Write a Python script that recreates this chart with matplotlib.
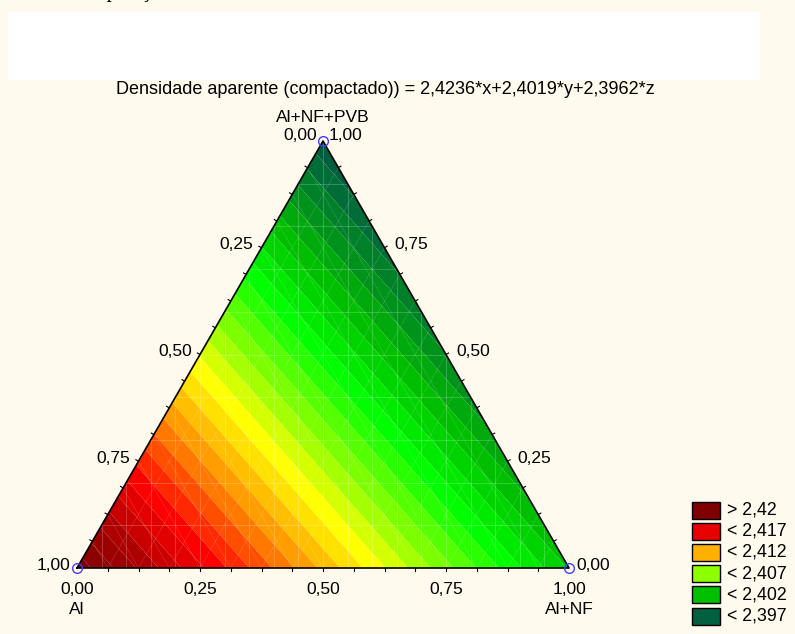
import numpy as np
import matplotlib.pyplot as plt
import matplotlib.tri as mtri
from matplotlib.colors import LinearSegmentedColormap
from matplotlib.patches import Rectangle, Polygon

plt.rcParams['font.family'] = ['Liberation Sans', 'DejaVu Sans']

# Modelo: densidade = a*x + b*y + c*z
coef = [2.4236, 2.4019, 2.3962]
vertex_names = ["Al", "Al+NF", "Al+NF+PVB"]
tick_vals = [0.0, 0.25, 0.5, 0.75, 1.0]
tick_labels = ["0,00", "0,25", "0,50", "0,75", "1,00"]

# legenda
leg_labels = ["> 2,42", "< 2,417", "< 2,412", "< 2,407", "< 2,402", "< 2,397"]
leg_colors = ["#7f0000", "#e60000", "#ffb000", "#8cff00", "#00c000", "#006040"]

# paleta continua (valor, cor)
cmap_vals = [2.3962, 2.397, 2.399, 2.4015, 2.4045, 2.408, 2.4105, 2.413, 2.4155,
             2.4175, 2.4205, 2.4236]
cmap_cols = ["#005a3c", "#006440", "#008a20", "#00c000", "#00ff00", "#90ff00",
             "#ffff00", "#ffb000", "#ff5000", "#ff0000", "#b00000", "#780000"]

title = "Densidade aparente (compactado)) = 2,4236*x+2,4019*y+2,3962*z"

# vertices do triangulo em pixels
P_al = np.array([77.0, 568.0])
P_nf = np.array([569.0, 568.0])
P_pvb = np.array([323.0, 141.0])


def to_px(a, b, c):
    return a * P_al + b * P_nf + c * P_pvb


fig = plt.figure(figsize=(7.95, 6.34), dpi=100)
fig.patch.set_facecolor("#fff9ee")
ax = fig.add_axes([0, 0, 1, 1])
ax.set_xlim(0, 795)
ax.set_ylim(634, 0)
ax.axis("off")

ax.add_patch(Rectangle((8, 12), 752, 68, facecolor="white", edgecolor="none"))
ax.text(170, -3, "composição", family="Liberation Serif", fontsize=15,
        ha="right", va="baseline")

# grade ternaria
n = 60
pts = []
for i in range(n + 1):
    for j in range(n + 1 - i):
        b = i / n
        c = j / n
        a = 1 - b - c
        pts.append((a, b, c))
pts = np.array(pts)
xy = pts[:, 0:1] * P_al + pts[:, 1:2] * P_nf + pts[:, 2:3] * P_pvb
z = pts @ np.array(coef)
tri = mtri.Triangulation(xy[:, 0], xy[:, 1])

vmin, vmax = cmap_vals[0], cmap_vals[-1]
cm = LinearSegmentedColormap.from_list(
    "stat", [((v - vmin) / (vmax - vmin), col) for v, col in zip(cmap_vals, cmap_cols)])
levels = np.arange(2.396, 2.4245, 0.001)
ax.tricontourf(tri, z, levels=levels, cmap=cm, vmin=vmin, vmax=vmax,
               antialiased=True)

# linhas claras da malha
clip = Polygon([P_al, P_nf, P_pvb], closed=True, transform=ax.transData)
mesh_kw = dict(color="white", lw=0.8, alpha=0.2)
for f in np.arange(0.05, 1.0, 0.05):
    x0 = P_al[0] + f * (P_nf[0] - P_al[0])
    ln, = ax.plot([x0, x0], [141, 568], **mesh_kw)
    ln.set_clip_path(clip)
for f in np.arange(0.1, 1.0, 0.1):
    y0 = 568 - f * 427
    ln, = ax.plot([0, 795], [y0, y0], **mesh_kw)
    ln.set_clip_path(clip)
for f in np.arange(0.0625, 1.0, 0.0625):
    p = to_px(1 - f, f, 0)
    for d in (P_pvb - P_al, P_pvb - P_nf):
        ln, = ax.plot([p[0], p[0] + d[0]], [p[1], p[1] + d[1]], color="white",
                      lw=0.6, alpha=0.14)
        ln.set_clip_path(clip)

# bordas
ax.plot([P_al[0], P_nf[0], P_pvb[0], P_al[0]], [P_al[1], P_nf[1], P_pvb[1], P_al[1]],
        color="black", lw=1.2)

# marcas de escala
for f in np.arange(0.0625, 1.0, 0.0625):
    p = to_px(1 - f, f, 0)
    ax.plot([p[0], p[0]], [p[1], p[1] + 3], color="black", lw=0.8)
    p = to_px(f, 0, 1 - f)
    ax.plot([p[0], p[0] - 2.6], [p[1], p[1] - 1.5], color="black", lw=0.8)
    p = to_px(0, 1 - f, f)
    ax.plot([p[0], p[0] + 2.6], [p[1], p[1] - 1.5], color="black", lw=0.8)

# rotulos dos eixos
fs = 12.5
for v, lab in zip(tick_vals, tick_labels):
    p = to_px(1 - v, v, 0)
    ax.text(p[0], 589, lab, ha="center", va="center", fontsize=fs)
for v, lab in zip(tick_vals[1:-1], tick_labels[1:-1]):
    p = to_px(v, 0, 1 - v)
    ax.text(p[0] - 8, p[1] - 3, lab, ha="right", va="center", fontsize=fs)
for v, lab in zip(tick_vals[1:-1], tick_labels[1:-1]):
    p = to_px(0, 1 - v, v)
    ax.text(p[0] + 10, p[1] - 3, lab, ha="left", va="center", fontsize=fs)
ax.text(P_al[0] - 7, 566, tick_labels[-1], ha="right", va="center", fontsize=fs)
ax.text(P_nf[0] + 7, 566, tick_labels[0], ha="left", va="center", fontsize=fs)
ax.text(P_pvb[0] - 6, 135, tick_labels[0], ha="right", va="center", fontsize=fs)
ax.text(P_pvb[0] + 6, 135, tick_labels[-1], ha="left", va="center", fontsize=fs)

ax.text(P_al[0], 610, vertex_names[0], ha="center", va="center", fontsize=fs)
ax.text(P_nf[0], 610, vertex_names[1], ha="center", va="center", fontsize=fs)
ax.text(P_pvb[0], 118, vertex_names[2], ha="center", va="center", fontsize=fs)

# circulos nos vertices
for p in (P_al, P_nf, P_pvb):
    ax.plot(p[0], p[1], "o", ms=7, mfc="none", mec="#4040ff", mew=1.0)

ax.text(385, 89, title, ha="center", va="center", fontsize=13)

# legenda
for k, (lab, col) in enumerate(zip(leg_labels, leg_colors)):
    yc = 510 + k * 21.2
    ax.add_patch(Rectangle((692, yc - 8.5), 28, 17, facecolor=col, edgecolor="black", lw=1))
    ax.text(727, yc, lab, ha="left", va="center", fontsize=12.8)

fig.savefig("out.png", dpi=100, facecolor=fig.get_facecolor())
